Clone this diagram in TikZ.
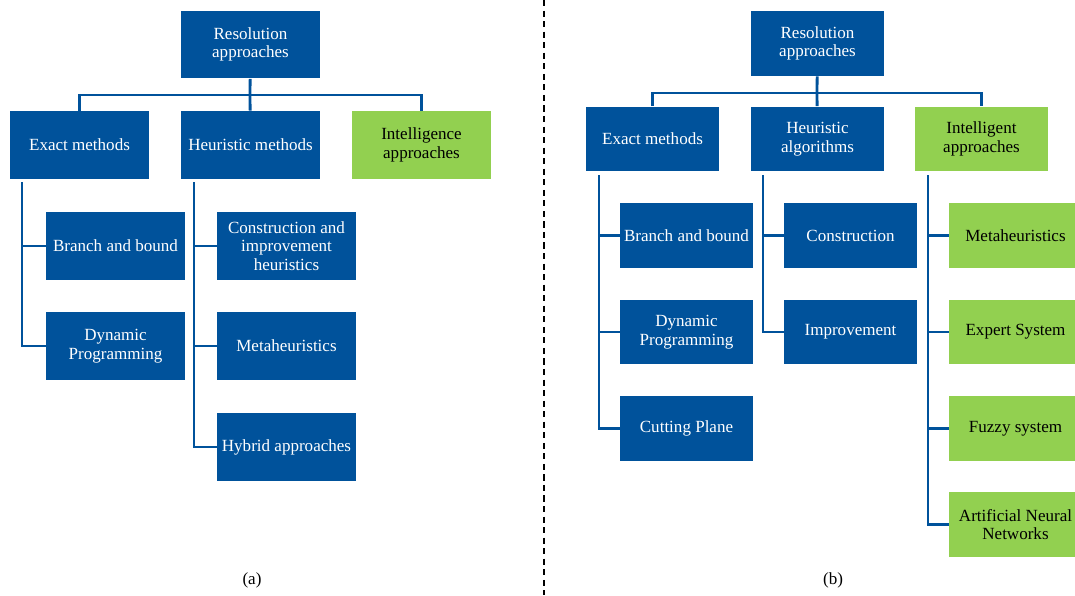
\documentclass[tikz,border=0pt]{standalone}
\usepackage{fontspec}
\setmainfont{Liberation Serif}
\definecolor{resblue}{RGB}{0,82,155}
\definecolor{resgreen}{RGB}{146,208,80}

\begin{document}
\begin{tikzpicture}[x=0.02cm, y=-0.02cm,
	every node/.style={font=\fontsize{9.7}{10.6}\selectfont},
	boxa/.style={rectangle, fill=resblue, text=white, align=center, inner sep=1pt, minimum width=2.78cm, minimum height=1.36cm},
	boxb/.style={boxa, minimum width=2.66cm, minimum height=1.3cm},
	smart/.style={fill=resgreen, text=black},
	link/.style={draw=resblue, line width=1.6pt}]
			\clip (0,0) rectangle (1075,595);
			
			% (a)
			\node[boxa] (rootA) at (250.5,44.5){Resolution\\approaches};
			\node[boxa] (exactA) at (79.5,145){Exact methods};
			\node[boxa] (heurA) at (250.5,145){Heuristic methods};
			\node[boxa, smart] (intelA) at (421.5,145){Intelligence\\approaches};
			\node[boxa] (bbA) at (115.5,246){Branch and bound};
			\node[boxa] (dpA) at (115.5,346){Dynamic\\Programming};
			\node[boxa] (chA) at (286.5,246){Construction and\\improvement\\heuristics};
			\node[boxa] (mhA) at (286.5,346){Metaheuristics};
			\node[boxa] (hyA) at (286.5,447){Hybrid approaches};
			\node (capA) at (252,580){(a)};
			
			\coordinate (barA) at (250,95);
			\coordinate (trunkEA) at (22,182);
			\coordinate (trunkHA) at (194,182);
			
			\path[link] (rootA) edge (barA);
			\path[link] (barA) edge (heurA);
			\draw[link] (exactA.north) |- (barA) -| (intelA.north);
			\draw[link] (trunkEA) |- (dpA.west);
			\draw[link] (trunkEA |- bbA.west) -- (bbA.west);
			\draw[link] (trunkHA) |- (hyA.west);
			\draw[link] (trunkHA |- chA.west) -- (chA.west);
			\draw[link] (trunkHA |- mhA.west) -- (mhA.west);
			
			% divider
			\draw[line width=1pt, dash pattern=on 3.5pt off 2.5pt] (544,0) -- (544,595);
			
			% (b)
			\node[boxb] (rootB) at (817.5,43.5){Resolution\\approaches};
			\node[boxb] (exactB) at (652.5,139){Exact methods};
			\node[boxb] (heurB) at (817.5,139){Heuristic\\algorithms};
			\node[boxb, smart] (intelB) at (981.5,139){Intelligent\\approaches};
			\node[boxb] (bbB) at (686.5,235.5){Branch and bound};
			\node[boxb] (dpB) at (686.5,332){Dynamic\\Programming};
			\node[boxb] (cpB) at (686.5,428.5){Cutting Plane};
			\node[boxb] (conB) at (850.5,235.5){Construction};
			\node[boxb] (impB) at (850.5,332){Improvement};
			\node[boxb, smart] (mhB) at (1015.5,235.5){Metaheuristics};
			\node[boxb, smart] (esB) at (1015.5,332){Expert System};
			\node[boxb, smart] (fsB) at (1015.5,428.5){Fuzzy system};
			\node[boxb, smart] (annB) at (1015.5,524.5){Artificial Neural\\Networks};
			\node (capB) at (833,580){(b)};
			
			\coordinate (barB) at (817,93);
			\coordinate (trunkEB) at (599,175);
			\coordinate (trunkHB) at (763,175);
			\coordinate (trunkIB) at (928,175);
			
			\path[link] (rootB) edge (barB);
			\path[link] (barB) edge (heurB);
			\draw[link] (exactB.north) |- (barB) -| (intelB.north);
			\draw[link] (trunkEB) |- (cpB.west);
			\draw[link] (trunkEB |- bbB.west) -- (bbB.west);
			\draw[link] (trunkEB |- dpB.west) -- (dpB.west);
			\draw[link] (trunkHB) |- (impB.west);
			\draw[link] (trunkHB |- conB.west) -- (conB.west);
			\draw[link] (trunkIB) |- (annB.west);
			\draw[link] (trunkIB |- mhB.west) -- (mhB.west);
			\draw[link] (trunkIB |- esB.west) -- (esB.west);
			\draw[link] (trunkIB |- fsB.west) -- (fsB.west);
\end{tikzpicture}
\end{document}
